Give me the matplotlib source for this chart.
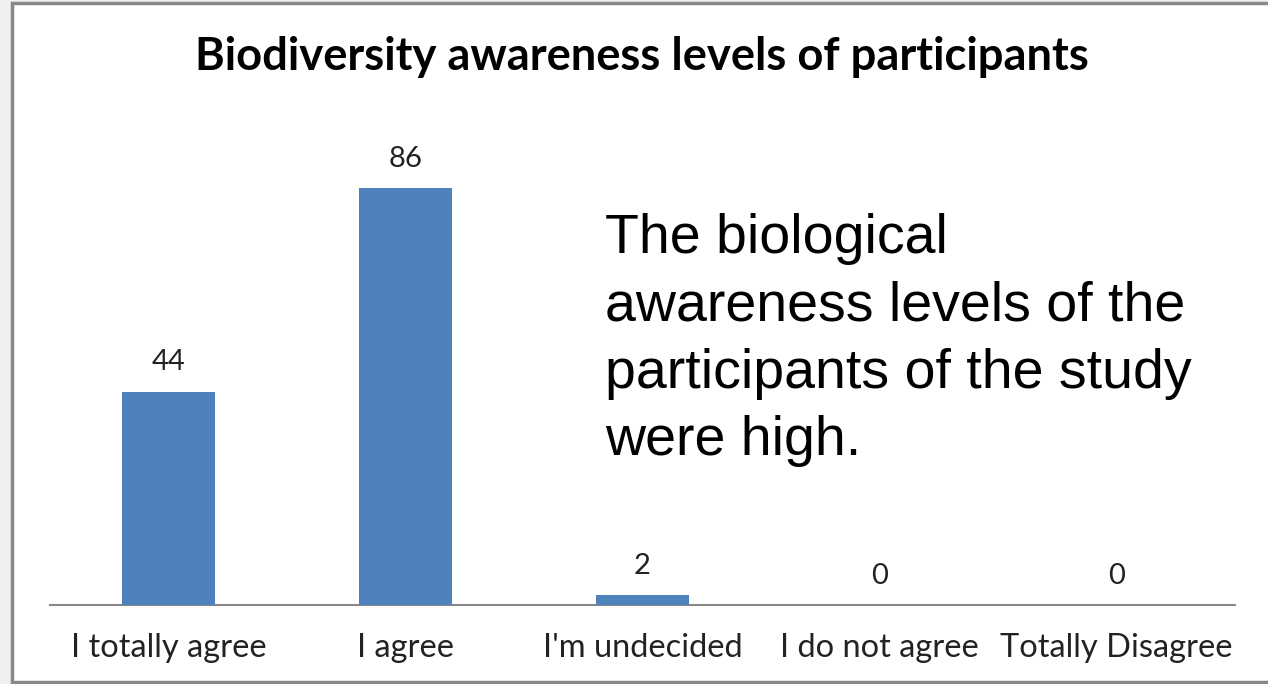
import matplotlib.pyplot as plt
from matplotlib.patches import Rectangle

categories = ["I totally agree", "I agree", "I'm undecided", "I do not agree", "Totally Disagree"]
counts = [44, 86, 2, 0, 0]
note_lines = ["The biological", "awareness levels of the", "participants of the study", "were high."]

W, H = 1268, 684
fig = plt.figure(figsize=(W / 100, H / 100), dpi=100)
fig.patch.set_facecolor("#efefef")

# white chart frame with grey border
frame = Rectangle((12 / W, 2 / H), 1.2, 1 - 5 / H, transform=fig.transFigure,
                  facecolor="white", edgecolor="#888888", linewidth=2.5, zorder=-5)
fig.patches.append(frame)

ax = fig.add_axes([50 / W, 1 - 605 / H, 1185 / W, (605 - 139.4) / H])
ax.set_zorder(2)
ax.set_facecolor("none")
x = range(len(categories))
ax.bar(x, counts, width=0.39, color="#4f81bd", zorder=3)
ax.set_xlim(-0.5, len(categories) - 0.5)
ax.set_ylim(0, 96)

for xi, v in zip(x, counts):
    ax.annotate(str(v), (xi, v), xytext=(0, 21), textcoords="offset points",
                ha="center", va="center", fontsize=21, family="Lato", color="#222222")

ax.set_xticks(list(x))
ax.set_xticklabels(categories, fontsize=23.5, family="Lato", color="#222222")
ax.tick_params(axis="x", length=0, pad=20)
ax.set_yticks([])
for s in ["top", "right", "left"]:
    ax.spines[s].set_visible(False)
ax.spines["bottom"].set_color("#888888")
ax.spines["bottom"].set_linewidth(1.5)

fig.text(642 / W, 1 - 57 / H, "Biodiversity awareness levels of participants",
         ha="center", va="center", fontsize=32.7, fontweight="bold", family="Lato")

for i, line in enumerate(note_lines):
    fig.text(605 / W, 1 - (253 + 67.3 * i) / H, line, ha="left", va="baseline",
             fontsize=40, family="Liberation Sans")

fig.savefig("out.png", dpi=100)
